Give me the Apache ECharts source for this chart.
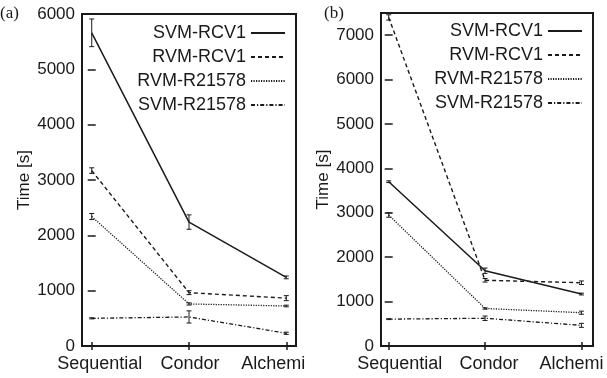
<!DOCTYPE html>
<html>
<head>
<meta charset="utf-8">
<script src="https://cdn.jsdelivr.net/npm/echarts@6/dist/echarts.min.js"></script>
<style>
  html, body { margin: 0; padding: 0; background: #fff; }
  #chart { width: 607px; height: 378px; }
</style>
</head>
<body>
<div id="chart"></div>
<script>
const categories = ['Sequential', 'Condor', 'Alchemi'];
const seriesNames = ['SVM-RCV1', 'RVM-RCV1', 'RVM-R21578', 'SVM-R21578'];

// panel (a)
const aSvmRcv1 = [5660, 2240, 1240];
const aSvmRcv1Err = [250, 130, 25];
const aRvmRcv1 = [3170, 964, 865];
const aRvmRcv1Err = [50, 35, 45];
const aRvmR21578 = [2340, 760, 723];
const aRvmR21578Err = [55, 20, 15];
const aSvmR21578 = [500, 525, 230];
const aSvmR21578Err = [10, 110, 20];

// panel (b)
const bSvmRcv1 = [3700, 1695, 1170];
const bSvmRcv1Err = [20, 60, 20];
const bRvmRcv1 = [7400, 1480, 1425];
const bRvmRcv1Err = [60, 40, 40];
const bRvmR21578 = [2950, 845, 750];
const bRvmR21578Err = [50, 15, 35];
const bSvmR21578 = [605, 625, 465];
const bSvmR21578Err = [10, 50, 45];

const yTicksA = [0, 1000, 2000, 3000, 4000, 5000, 6000];
const yTicksB = [0, 1000, 2000, 3000, 4000, 5000, 6000, 7000];

const panels = [
  { values: [aSvmRcv1, aRvmRcv1, aRvmR21578, aSvmR21578],
    errors: [aSvmRcv1Err, aRvmRcv1Err, aRvmR21578Err, aSvmR21578Err],
    yMax: 6000, yTicks: yTicksA },
  { values: [bSvmRcv1, bRvmRcv1, bRvmR21578, bSvmR21578],
    errors: [bSvmRcv1Err, bRvmRcv1Err, bRvmR21578Err, bSvmR21578Err],
    yMax: 7500, yTicks: yTicksB },
];

const INK = '#1a1a1a';
const FONT = 'Liberation Sans, Arial, Helvetica, sans-serif';
const LINE_TYPES = ['solid', [4, 3], [1.2, 1.3], [4, 2, 1.2, 2]];
const LINE_WIDTHS = [1.5, 1.4, 1.3, 1.3];

const grids = [
  { left: 82, right: 311, top: 14, bottom: 32 },
  { left: 381, right: 14, top: 13, bottom: 32 },
];
const xRanges = [[-0.1, 2.1], [-0.08, 2.12]];
// label nudges (px) so the outer names stay inside the frame, as in the source
const labelShift = [[8, 1, -13], [11, 4, -10]];

function errorBarItem(params, api) {
  const x = api.value(0);
  const top = api.coord([x, api.value(2)]);
  const bot = api.coord([x, api.value(1)]);
  const w = 2.5;
  const style = { stroke: INK, lineWidth: 1 };
  return {
    type: 'group',
    children: [
      { type: 'line', shape: { x1: top[0], y1: top[1], x2: bot[0], y2: bot[1] }, style },
      { type: 'line', shape: { x1: top[0] - w, y1: top[1], x2: top[0] + w, y2: top[1] }, style },
      { type: 'line', shape: { x1: bot[0] - w, y1: bot[1], x2: bot[0] + w, y2: bot[1] }, style },
    ],
  };
}

const xAxis = [];
const yAxis = [];
const series = [];

panels.forEach((panel, p) => {
  const shifts = labelShift[p];
  const rich = {};
  shifts.forEach((s, i) => {
    rich['c' + i] = {
      fontSize: 18, fontFamily: FONT, color: INK,
      padding: s >= 0 ? [0, 0, 0, 2 * s] : [0, -2 * s, 0, 0],
    };
  });
  const tick = { inside: true, length: 4, lineStyle: { color: INK, width: 1.5 } };
  xAxis.push({
    type: 'value', gridIndex: p, position: 'bottom',
    min: xRanges[p][0], max: xRanges[p][1],
    axisLine: { show: false },
    splitLine: { show: false },
    axisTick: Object.assign({ customValues: [0, 1, 2] }, tick),
    axisLabel: {
      customValues: [0, 1, 2], margin: 9,
      formatter: (v) => '{c' + Math.round(v) + '|' + categories[Math.round(v)] + '}',
      rich,
    },
  });
  xAxis.push({
    type: 'value', gridIndex: p, position: 'top',
    min: xRanges[p][0], max: xRanges[p][1],
    axisLine: { show: false },
    splitLine: { show: false },
    axisTick: Object.assign({ customValues: [0, 1, 2] }, tick),
    axisLabel: { show: false },
  });
  yAxis.push({
    type: 'value', gridIndex: p, position: 'left',
    min: 0, max: panel.yMax,
    name: 'Time [s]', nameLocation: 'middle', nameGap: 48,
    nameTextStyle: { fontSize: 17, fontFamily: FONT, color: INK },
    axisLine: { show: false },
    splitLine: { show: false },
    axisTick: Object.assign({ customValues: panel.yTicks }, tick),
    axisLabel: {
      customValues: panel.yTicks, fontSize: 17, fontFamily: FONT, color: INK, margin: 7,
      formatter: (v) => String(v),
    },
  });
  yAxis.push({
    type: 'value', gridIndex: p, position: 'right',
    min: 0, max: panel.yMax,
    axisLine: { show: false },
    splitLine: { show: false },
    axisTick: Object.assign({ customValues: panel.yTicks }, tick),
    axisLabel: { show: false },
  });

  const errData = [];
  panel.values.forEach((vals, s) => {
    series.push({
      type: 'line', name: seriesNames[s],
      xAxisIndex: p * 2, yAxisIndex: p * 2,
      data: vals.map((v, i) => [i, v]),
      symbol: 'none',
      lineStyle: { color: INK, width: LINE_WIDTHS[s], type: LINE_TYPES[s] },
      itemStyle: { color: INK },
      z: 3,
    });
    vals.forEach((v, i) => {
      const e = panel.errors[s][i];
      errData.push([i, v - e, v + e]);
    });
  });
  series.push({
    type: 'custom',
    xAxisIndex: p * 2, yAxisIndex: p * 2,
    renderItem: errorBarItem,
    encode: { x: 0, y: [1, 2] },
    data: errData,
    z: 4,
  });
});

const legendBase = {
  orient: 'vertical', align: 'right', padding: 0,
  itemWidth: 34, itemHeight: 14, itemGap: 6,
  itemStyle: { color: 'rgba(0,0,0,0)', borderWidth: 0, opacity: 0 },
  textStyle: { fontSize: 18, fontFamily: FONT, color: INK },
  data: seriesNames,
  selectedMode: false,
};

const chart = echarts.init(document.getElementById('chart'), null, { renderer: 'canvas' });
chart.setOption({
  animation: false,
  backgroundColor: '#fff',
  grid: grids.map((g) => Object.assign({ show: true, borderColor: INK, borderWidth: 2, backgroundColor: 'transparent' }, g)),
  xAxis,
  yAxis,
  series,
  legend: [
    Object.assign({}, legendBase, { right: 321, top: 24 }),
    Object.assign({}, legendBase, { right: 24, top: 22 }),
  ],
  graphic: [
    { type: 'text', left: 0, top: 5, style: { text: '(a)', font: '17px "Liberation Serif", "Times New Roman", serif', fill: INK } },
    { type: 'text', left: 324, top: 5, style: { text: '(b)', font: '17px "Liberation Serif", "Times New Roman", serif', fill: INK } },
  ],
});
</script>
</body>
</html>
